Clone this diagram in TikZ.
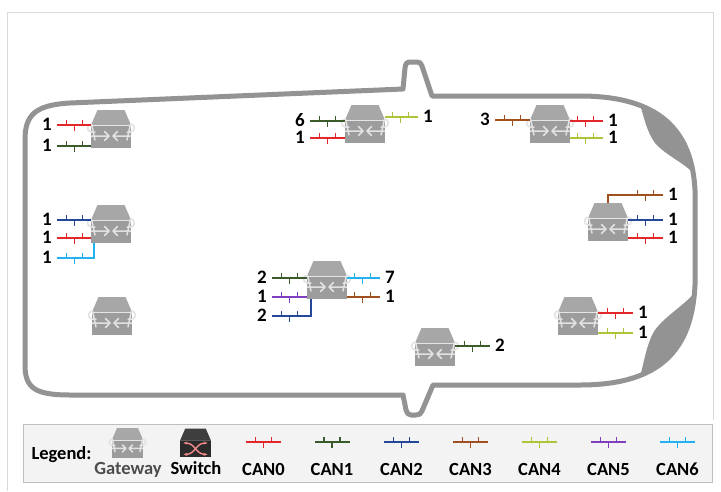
\documentclass[tikz,border=0pt]{standalone}
\usepackage{fontspec}
\setmainfont{Carlito}
\usetikzlibrary{decorations.markings,arrows.meta}

% bus colours
\definecolor{canzero}{HTML}{E3262A}
\definecolor{canone}{HTML}{3B5B2A}
\definecolor{cantwo}{HTML}{24479A}
\definecolor{canthree}{HTML}{A0501E}
\definecolor{canfour}{HTML}{AFC43A}
\definecolor{canfive}{HTML}{7F3FBF}
\definecolor{cansix}{HTML}{22B2F0}
% body and device colours
\definecolor{carline}{HTML}{939393}
\definecolor{gwroof}{HTML}{A7A7A7}
\definecolor{gwbody}{HTML}{9C9C9C}
\definecolor{gwmark}{HTML}{E2E2E2}
\definecolor{swroof}{HTML}{3E3E3E}
\definecolor{swbody}{HTML}{2A2A2A}
\definecolor{swarrow}{HTML}{F08A8A}
\definecolor{legfill}{HTML}{F3F3F3}
\definecolor{legdraw}{HTML}{C0C0C0}
\definecolor{gwtext}{HTML}{4D4D4D}

\tikzset{
  numlabel/.style={font=\fontsize{19}{20}\selectfont\bfseries, inner xsep=5pt, inner ysep=0pt,
    text height=11.5pt, text depth=0pt},
  lblL/.style={numlabel, anchor=east},
  lblR/.style={numlabel, anchor=west},
  legtext/.style={font=\fontsize{18.5}{20}\selectfont\bfseries, inner sep=0pt, anchor=base},
  bus/.style={line width=1.3pt},
  % ticks close to the start of the path (label on the left)
  busL/.style={bus, postaction={decorate, decoration={markings,
      mark=at position 9.5pt with {\draw[line width=1.3pt] (0pt,0pt) -- (0pt,5pt);},
      mark=at position 17.5pt with {\draw[line width=1.3pt] (0pt,0pt) -- (0pt,-6pt);},
      mark=at position 25.5pt with {\draw[line width=1.3pt] (0pt,0pt) -- (0pt,5pt);}}}},
  % ticks close to the end of the path (label on the right)
  busR/.style={bus, postaction={decorate, decoration={markings,
      mark=at position -25.5pt with {\draw[line width=1.3pt] (0pt,0pt) -- (0pt,5pt);},
      mark=at position -17.5pt with {\draw[line width=1.3pt] (0pt,0pt) -- (0pt,-6pt);},
      mark=at position -9.5pt with {\draw[line width=1.3pt] (0pt,0pt) -- (0pt,5pt);}}}},
  car/.style={draw=carline, line width=5pt, line join=round},
  lamp/.style={fill=carline},
  gwline/.style={draw=gwmark, line width=1.5pt, line cap=round, line join=round},
  gateway/.pic={
    \node[minimum width=40pt, minimum height=38pt, inner sep=0pt, outer sep=0pt] (-n) at (0,0) {};
    \fill[gwroof] (-13.5,-19) -- (13.5,-19) -- (20,-4) -- (-20,-4) -- cycle;
    \fill[gwbody] (-20,-4) rectangle (20,19);
    \draw[white!80!gray, line width=0.8pt] (-20,-3.6) -- (20,-3.6);
    % rounded ends of the arrow band
    \draw[gwline] (-16,3) -- (-19.5,3) arc[start angle=90, end angle=270, radius=4] -- (-16,11);
    \draw[gwline] (16,3) -- (19.5,3) arc[start angle=90, end angle=-90, radius=4] -- (16,11);
    % the two arrows
    \draw[gwline] (-19.5,7) -- (-2,7) (-6.5,2.5) -- (-2,7) -- (-6.5,11.5);
    \draw[gwline] (19.5,7) -- (2,7) (6.5,2.5) -- (2,7) -- (6.5,11.5);
  },
  switchicon/.pic={
    \fill[swroof] (-13.5,-19) -- (13.5,-19) -- (20,-4) -- (-20,-4) -- cycle;
    \fill[swbody] (-20,-4) rectangle (20,19);
    \draw[gray!70!black, line width=0.8pt] (-20,-3.6) -- (20,-3.6);
    \draw[swarrow, line width=1.4pt, {Stealth[length=4pt]}-{Stealth[length=4pt]}]
      (-16,0) .. controls (0,0) and (0,15) .. (16,15);
    \draw[swarrow, line width=1.4pt, {Stealth[length=4pt]}-{Stealth[length=4pt]}]
      (-16,15) .. controls (0,15) and (0,0) .. (16,0);
  }
}

\begin{document}
\begin{tikzpicture}[x=1pt, y=-1pt]
\useasboundingbox (0,0) rectangle (721,491);
\fill[white] (0,0) rectangle (721,491);

% page frame
\draw[gray!30, line width=0.8pt] (7,491) -- (7,12) -- (713,12) -- (713,420);

% headlights
\fill[lamp] (640,104) .. controls (672,114) and (691,140) .. (695,175)
  .. controls (685,163) and (665,155) .. (655,143)
  .. controls (647,132) and (644,118) .. cycle;
\fill[lamp] (640,377) .. controls (672,367) and (691,335) .. (695,292)
  .. controls (685,305) and (665,316) .. (655,330)
  .. controls (647,342) and (644,362) .. cycle;

% car body outline with the two mirrors
\draw[car] (25,140)
  .. controls (25,115) and (35,105) .. (70,103)
  -- (403,89)
  -- (405,68) .. controls (405.5,63) and (407,62) .. (411,62)
  -- (417,62) .. controls (420,62) and (421,63) .. (422,66)
  -- (432,96) -- (580,96)
  .. controls (660,96) and (692,131) .. (695,190)
  -- (695,285)
  .. controls (692,350) and (660,385) .. (580,385)
  -- (433,385)
  -- (422,411) .. controls (421,414) and (419,415) .. (416,415)
  -- (411,415) .. controls (408,415) and (407,413) .. (406,410)
  -- (403,395) -- (70,395)
  .. controls (35,395) and (25,388) .. (25,365)
  -- cycle;

% gateways
\pic (ga) at (111,129) {gateway};
\pic (gb) at (111,224) {gateway};
\pic (gc) at (112,316) {gateway};
\pic (gd) at (365,124) {gateway};
\pic (ge) at (550,124) {gateway};
\pic (gf) at (608,222) {gateway};
\pic (gg) at (327,280) {gateway};
\pic (gh) at (578,316) {gateway};
\pic (gi) at (435,347) {gateway};

% rear left gateway
\node[lblL] (la1) at (57,125) {1};
\node[lblL] (la2) at (57,146) {1};
\draw[canzero, busL] (la1.east) -- (la1.east -| ga-n.west);
\draw[canone, busL] (la2.east) -- (la2.east -| ga-n.west);

% left gateway
\node[lblL] (lb1) at (57,220) {1};
\node[lblL] (lb2) at (57,238) {1};
\node[lblL] (lb3) at (57,258) {1};
\draw[cantwo, busL] (lb1.east) -- (lb1.east -| gb-n.west);
\draw[canzero, busL] (lb2.east) -- (lb2.east -| gb-n.west);
\draw[cansix, busL] (lb3.east) -| ([xshift=-17pt]gb-n.south);

% top middle gateway
\node[lblL] (ld1) at (310,121) {6};
\node[lblL] (ld2) at (310,138) {1};
\node[lblR] (rd1) at (418,117) {1};
\draw[canone, busL] (ld1.east) -- (ld1.east -| gd-n.west);
\draw[canzero, busL] (ld2.east) -- (ld2.east -| gd-n.west);
\draw[canfour, busR] (rd1.west -| gd-n.east) -- (rd1.west);

% top right gateway
\node[lblL] (le1) at (495,120) {3};
\node[lblR] (re1) at (603,121) {1};
\node[lblR] (re2) at (603,138) {1};
\draw[canthree, busL] (le1.east) -- (le1.east -| ge-n.west);
\draw[canzero, busR] (re1.west -| ge-n.east) -- (re1.west);
\draw[canfour, busR] (re2.west -| ge-n.east) -- (re2.west);

% front gateway
\node[lblR] (rf1) at (663,195) {1};
\node[lblR] (rf2) at (663,220) {1};
\node[lblR] (rf3) at (663,238) {1};
\draw[canthree, busR] (gf-n.north) |- (rf1.west);
\draw[cantwo, busR] (rf2.west -| gf-n.east) -- (rf2.west);
\draw[canzero, busR] (rf3.west -| gf-n.east) -- (rf3.west);

% central gateway
\node[lblL] (lg1) at (272,278) {2};
\node[lblL] (lg2) at (272,297) {1};
\node[lblL] (lg3) at (272,316) {2};
\node[lblR] (rg1) at (380,278) {7};
\node[lblR] (rg2) at (380,297) {1};
\draw[canone, busL] (lg1.east) -- (lg1.east -| gg-n.west);
\draw[canfive, busL] (lg2.east) -- (lg2.east -| gg-n.west);
\draw[cantwo, busL] (lg3.east) -| ([xshift=-16pt]gg-n.south);
\draw[cansix, busR] (rg1.west -| gg-n.east) -- (rg1.west);
\draw[canthree, busR] (rg2.west -| gg-n.east) -- (rg2.west);

% lower right gateway
\node[lblR] (rh1) at (633,313) {1};
\node[lblR] (rh2) at (633,333) {1};
\draw[canzero, busR] (rh1.west -| gh-n.east) -- (rh1.west);
\draw[canfour, busR] (rh2.west -| gh-n.east) -- (rh2.west);

% lower middle gateway
\node[lblR] (ri1) at (490,346) {2};
\draw[canone, busR] (ri1.west -| gi-n.east) -- (ri1.west);

% legend
\node[draw=legdraw, fill=legfill, line width=0.8pt, minimum width=689pt, minimum height=58pt, inner sep=0pt] (legend) at (367.5,453) {};
\node[legtext] (legtitle) at (61.5,459) {Legend:};
\pic[scale=0.78] (lgw) at (127.5,443) {gateway};
\node[legtext, text=gwtext] (lgwtext) at (128,474) {Gateway};
\pic[scale=0.76] (lsw) at (195.5,443) {switchicon};
\node[legtext] (lswtext) at (196,474) {Switch};
\foreach \cx/\col/\txt [count=\i] in {263.5/canzero/CAN0, 332/canone/CAN1, 401.5/cantwo/CAN2, 470.5/canthree/CAN3, 539.5/canfour/CAN4, 608.5/canfive/CAN5, 677.5/cansix/CAN6}{
  \coordinate (ls\i) at (\cx-17.5,442);
  \coordinate (le\i) at (\cx+17.5,442);
  \draw[\col, busL] (ls\i) -- (le\i);
  \node[legtext] (lt\i) at (\cx,475) {\txt};
}
\end{tikzpicture}
\end{document}
